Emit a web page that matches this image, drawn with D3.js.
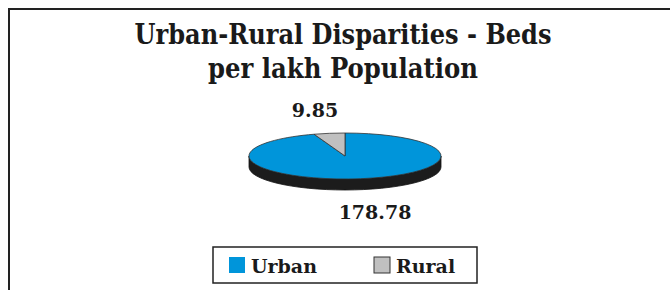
<!DOCTYPE html>
<html>
<head>
<meta charset="utf-8">
<script src="https://cdn.jsdelivr.net/npm/d3@7"></script>
<style>
  body { margin: 0; background: #fff; }
  svg { display: block; }
</style>
</head>
<body>
<svg id="chart" width="670" height="290"></svg>
<script>
// data
const categories = ["Urban", "Rural"];
const values = [178.78, 9.85];
const colors = ["#0095da", "#c0c0c0"];
const titleLines = ["Urban-Rural Disparities - Beds", "per lakh Population"];

const svg = d3.select("#chart");

// outer frame (runs off the right/bottom edge like the original)
svg.append("rect")
    .attr("x", 9).attr("y", 9)
    .attr("width", 700).attr("height", 320)
    .attr("fill", "none")
    .attr("stroke", "#222")
    .attr("stroke-width", 2);

// title - squeezed a bit to get the condensed look
const titleWidths = [417, 270];
svg.append("g").selectAll("text")
    .data(titleLines)
    .join("text")
    .attr("x", 343)
    .attr("y", (d, i) => 44 + i * 34)
    .attr("text-anchor", "middle")
    .attr("font-family", "DejaVu Serif, serif")
    .attr("font-weight", "bold")
    .attr("font-size", 28)
    .attr("textLength", (d, i) => titleWidths[i])
    .attr("lengthAdjust", "spacingAndGlyphs")
    .attr("fill", "#1a1a1a")
    .text(d => d);

// pie
const cx = 345, cy = 156, rx = 96, ry = 23, depth = 11;

const pie = d3.pie().sort(null)(values);

const pt = (a, dy = 0) => [cx + rx * Math.sin(a), cy - ry * Math.cos(a) + dy];

// side of the pie (front half only is visible)
const sideStart = Math.PI / 2, sideEnd = 3 * Math.PI / 2;
const p1 = pt(sideStart), p2 = pt(sideEnd), p3 = pt(sideEnd, depth), p4 = pt(sideStart, depth);
svg.append("path")
    .attr("d", `M${p1} A${rx},${ry} 0 0 1 ${p2} L${p3} A${rx},${ry} 0 0 0 ${p4} Z`)
    .attr("fill", "#1c1c1c")
    .attr("stroke", "#111")
    .attr("stroke-width", 0.8);

// top faces
svg.append("g").selectAll("path")
    .data(pie)
    .join("path")
    .attr("d", d => {
        const a = pt(d.startAngle), b = pt(d.endAngle);
        const large = d.endAngle - d.startAngle > Math.PI ? 1 : 0;
        return `M${cx},${cy} L${a} A${rx},${ry} 0 ${large} 1 ${b} Z`;
    })
    .attr("fill", (d, i) => colors[i])
    .attr("stroke", "#333")
    .attr("stroke-width", 0.8);

// value labels
const labelPos = [[375, 219], [315, 117]];
svg.append("g").selectAll("text")
    .data(pie)
    .join("text")
    .attr("x", (d, i) => labelPos[i][0])
    .attr("y", (d, i) => labelPos[i][1])
    .attr("text-anchor", "middle")
    .attr("font-family", "DejaVu Serif, serif")
    .attr("font-weight", "bold")
    .attr("font-size", 19)
    .attr("fill", "#1a1a1a")
    .text(d => d3.format(".2f")(d.value));

// legend
const legend = svg.append("g");
legend.append("rect")
    .attr("x", 213).attr("y", 247)
    .attr("width", 264).attr("height", 36)
    .attr("fill", "#fff")
    .attr("stroke", "#222")
    .attr("stroke-width", 1.5);

const legendX = [229, 374];
const item = legend.selectAll("g")
    .data(categories)
    .join("g")
    .attr("transform", (d, i) => `translate(${legendX[i]},257)`);

item.append("rect")
    .attr("width", 16).attr("height", 16)
    .attr("fill", (d, i) => colors[i])
    .attr("stroke", (d, i) => i === 0 ? "none" : "#333")
    .attr("stroke-width", 1);

item.append("text")
    .attr("x", 22).attr("y", 15.5)
    .attr("font-family", "DejaVu Serif, serif")
    .attr("font-weight", "bold")
    .attr("font-size", 19)
    .attr("fill", "#1a1a1a")
    .text(d => d);
</script>
</body>
</html>
